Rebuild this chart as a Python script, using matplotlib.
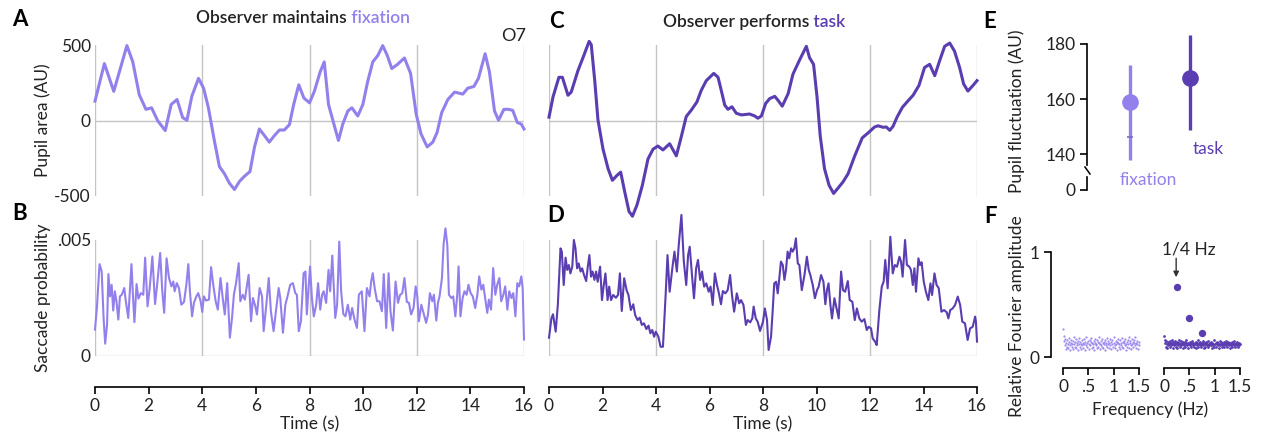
import numpy as np
import matplotlib
matplotlib.use("Agg")
from matplotlib import pyplot as plt
from matplotlib.lines import Line2D

plt.rcParams['font.family'] = ['Lato', 'DejaVu Sans']
plt.rcParams['font.size'] = 12.5

FIX = '#9480ec'
TASK = '#5a3db0'
GRID = '#c4c4c4'
INK = '#222222'

# --- A: pupil area while fixating (AU)
pupil_fix_t = [0, 0.35, 0.70, 1.19, 1.41, 1.65, 1.90, 2.11, 2.34, 2.62,
               2.84, 3.06, 3.27, 3.43, 3.61, 3.86, 4.05, 4.23, 4.45, 4.64,
               4.83, 5.01, 5.20, 5.39, 5.57, 5.78, 5.95, 6.13, 6.32, 6.50,
               6.69, 6.88, 7.06, 7.25, 7.41, 7.60, 7.79, 8.00, 8.18, 8.40,
               8.55, 8.71, 8.91, 9.08, 9.24, 9.43, 9.58, 9.80, 9.99, 10.17,
               10.36, 10.55, 10.73, 10.90, 11.07, 11.27, 11.54, 11.77, 11.98, 12.16,
               12.39, 12.60, 12.76, 12.93, 13.16, 13.41, 13.72, 13.90, 14.13, 14.30,
               14.55, 14.71, 14.90, 15.05, 15.25, 15.42, 15.58, 15.75, 15.90, 16.0]
pupil_fix = [128, 377, 193, 496, 388, 171, 74, 84, -2, -67,
             106, 139, 19, 2, 160, 279, 214, 84, -132, -305,
             -353, -414, -457, -403, -370, -338, -175, -56, -100, -143,
             -100, -63, -63, -28, 106, 236, 149, 117, 193, 323,
             388, 106, -24, -132, -24, 63, 84, 30, 106, 258,
             388, 431, 496, 431, 344, 370, 414, 312, 41, -89,
             -175, -143, -78, 52, 139, 188, 175, 214, 225, 279,
             442, 323, 63, 2, 74, 74, 67, -13, -24, -56]

# --- C: pupil area during task (AU)
pupil_task_t = [0, 0.15, 0.37, 0.50, 0.71, 0.83, 1.08, 1.27, 1.50, 1.58,
                1.71, 1.83, 2.02, 2.21, 2.37, 2.54, 2.68, 2.83, 2.99, 3.12,
                3.29, 3.49, 3.70, 3.89, 4.07, 4.26, 4.51, 4.76, 4.95, 5.13,
                5.32, 5.53, 5.69, 5.88, 6.16, 6.32, 6.44, 6.57, 6.69, 6.84,
                7.00, 7.19, 7.50, 7.69, 7.81, 7.94, 8.10, 8.25, 8.44, 8.56,
                8.72, 8.94, 9.12, 9.35, 9.62, 9.74, 9.89, 10.02, 10.14, 10.30,
                10.47, 10.64, 10.84, 10.99, 11.18, 11.43, 11.71, 11.93, 12.17, 12.30,
                12.49, 12.61, 12.74, 12.86, 13.01, 13.21, 13.42, 13.61, 13.83, 14.04,
                14.23, 14.42, 14.60, 14.79, 14.98, 15.16, 15.35, 15.50, 15.66, 15.85,
                16.0]
pupil_task = [22, 156, 286, 286, 167, 188, 329, 416, 524, 502,
              264, 4, -190, -320, -396, -364, -342, -472, -602, -634,
              -559, -429, -255, -190, -169, -195, -154, -234, -104, 26,
              69, 123, 199, 264, 312, 286, 199, 102, 74, 91,
              48, 37, 43, 30, 15, 30, 113, 145, 160, 134,
              95, 178, 307, 394, 491, 416, 372, 156, -104, -320,
              -429, -483, -440, -407, -353, -234, -115, -82, -43, -35,
              -45, -43, -65, -39, 22, 87, 130, 167, 232, 351,
              372, 297, 394, 491, 513, 459, 351, 242, 195, 232,
              264]

# --- B: saccade probability while fixating, (time s, prob x 1e-3)
saccade_fix = np.array([
    (0, 1.14), (0.07, 2.07), (0.17, 3.96), (0.25, 3.64), (0.32, 1.64), (0.38, 0.53),
    (0.45, 1.36), (0.50, 3.53), (0.56, 2.57), (0.62, 3.07), (0.68, 1.96), (0.74, 2.79),
    (0.80, 2.36), (0.87, 1.57), (0.93, 2.57), (1.00, 2.64), (1.09, 2.93), (1.15, 2.36),
    (1.24, 1.64), (1.30, 2.79), (1.36, 3.96), (1.42, 2.50), (1.47, 1.46), (1.55, 3.10),
    (1.62, 2.47), (1.71, 2.71), (1.80, 2.64), (1.87, 4.24), (1.96, 2.14), (2.04, 2.93),
    (2.14, 4.29), (2.24, 2.24), (2.33, 3.21), (2.43, 4.44), (2.51, 2.79), (2.58, 1.86),
    (2.67, 4.21), (2.76, 3.36), (2.85, 3.00), (2.92, 3.21), (2.97, 2.79), (3.05, 3.14),
    (3.13, 2.93), (3.22, 2.21), (3.32, 2.33), (3.41, 3.10), (3.48, 3.96), (3.54, 2.79),
    (3.62, 1.71), (3.69, 2.29), (3.78, 2.57), (3.85, 2.71), (3.94, 2.36), (4.00, 1.90),
    (4.06, 2.57), (4.14, 2.39), (4.25, 2.43), (4.33, 3.83), (4.41, 3.07), (4.50, 2.36),
    (4.58, 2.00), (4.68, 3.36), (4.77, 2.43), (4.84, 1.79), (4.93, 3.14), (5.03, 0.79),
    (5.11, 1.64), (5.18, 2.64), (5.26, 3.14), (5.36, 4.00), (5.42, 2.36), (5.51, 2.64),
    (5.59, 2.43), (5.67, 3.07), (5.73, 3.50), (5.82, 1.50), (5.89, 2.50), (5.98, 2.14),
    (6.04, 1.79), (6.14, 2.93), (6.23, 2.57), (6.29, 1.07), (6.39, 2.21), (6.48, 3.36),
    (6.56, 1.93), (6.66, 1.07), (6.76, 2.07), (6.85, 2.93), (6.91, 2.50), (7.01, 1.00),
    (7.10, 2.21), (7.18, 2.57), (7.28, 3.07), (7.38, 3.14), (7.47, 2.71), (7.53, 2.64),
    (7.60, 1.07), (7.68, 1.50), (7.78, 3.57), (7.85, 3.64), (7.90, 1.79), (8.02, 3.86),
    (8.09, 2.50), (8.16, 1.71), (8.25, 2.21), (8.32, 3.14), (8.40, 2.00), (8.47, 2.64),
    (8.53, 2.79), (8.62, 2.29), (8.71, 3.71), (8.77, 2.79), (8.85, 4.33), (8.96, 1.64),
    (9.03, 2.21), (9.11, 4.93), (9.18, 2.79), (9.26, 1.81), (9.34, 1.71), (9.43, 2.21),
    (9.52, 1.57), (9.59, 2.07), (9.68, 1.57), (9.77, 1.21), (9.84, 2.64), (9.95, 2.79),
    (10.05, 1.07), (10.14, 2.93), (10.24, 2.57), (10.30, 3.21), (10.36, 3.57), (10.43, 2.93),
    (10.52, 2.36), (10.61, 2.36), (10.70, 1.93), (10.77, 3.53), (10.86, 1.21), (10.95, 3.57),
    (11.02, 1.93), (11.11, 1.10), (11.21, 3.21), (11.30, 2.29), (11.38, 2.64), (11.46, 2.71),
    (11.54, 3.36), (11.63, 2.33), (11.71, 2.29), (11.79, 1.79), (11.88, 2.07), (11.96, 3.00),
    (12.02, 2.57), (12.08, 1.50), (12.17, 2.21), (12.25, 1.86), (12.35, 1.43), (12.42, 1.79),
    (12.49, 2.71), (12.58, 2.36), (12.64, 2.64), (12.73, 1.53), (12.79, 2.29), (12.85, 2.57),
    (12.94, 3.36), (13.00, 4.79), (13.07, 5.50), (13.14, 4.79), (13.20, 2.64), (13.29, 2.50),
    (13.36, 2.57), (13.44, 1.71), (13.51, 2.64), (13.56, 3.86), (13.63, 1.71), (13.71, 2.50),
    (13.78, 2.79), (13.86, 2.64), (13.93, 3.07), (14.01, 2.71), (14.09, 2.57), (14.18, 2.07),
    (14.26, 2.64), (14.33, 3.43), (14.41, 2.86), (14.48, 3.07), (14.56, 2.43), (14.63, 1.86),
    (14.69, 2.43), (14.77, 2.00), (14.85, 3.79), (14.93, 2.64), (15.00, 3.07), (15.08, 3.36),
    (15.15, 2.36), (15.23, 2.64), (15.30, 3.00), (15.38, 2.00), (15.45, 2.79), (15.53, 2.50),
    (15.60, 2.71), (15.68, 1.71), (15.75, 3.14), (15.82, 3.00), (15.90, 3.43), (15.95, 2.93),
    (16.0, 0.71)])

# --- D: saccade probability during task, (time s, prob x 1e-3)
saccade_task = np.array([
    (0, 0.79), (0.09, 1.62), (0.15, 1.80), (0.25, 1.05), (0.33, 2.20), (0.43, 4.64),
    (0.48, 4.50), (0.55, 3.06), (0.62, 4.24), (0.68, 3.71), (0.74, 3.92), (0.80, 3.56),
    (0.87, 3.85), (0.93, 5.00), (0.99, 4.64), (1.05, 3.78), (1.11, 3.99), (1.18, 3.64),
    (1.24, 3.78), (1.31, 3.49), (1.39, 3.23), (1.45, 3.85), (1.51, 4.35), (1.57, 3.42),
    (1.63, 3.64), (1.70, 3.28), (1.76, 3.64), (1.82, 3.20), (1.91, 3.85), (1.98, 2.41),
    (2.04, 2.99), (2.11, 3.56), (2.19, 2.41), (2.25, 2.99), (2.32, 2.41), (2.40, 2.63),
    (2.50, 2.51), (2.58, 2.63), (2.65, 3.56), (2.72, 1.94), (2.81, 3.35), (2.90, 2.84),
    (2.97, 2.63), (3.06, 1.98), (3.15, 2.23), (3.22, 1.77), (3.31, 1.55), (3.39, 1.65),
    (3.47, 1.34), (3.55, 1.41), (3.64, 1.16), (3.72, 1.31), (3.79, 0.98), (3.86, 1.12),
    (3.93, 0.83), (3.99, 1.05), (4.09, 0.83), (4.17, 0.40), (4.26, 0.40), (4.36, 2.63),
    (4.43, 4.35), (4.51, 2.77), (4.61, 3.78), (4.69, 4.50), (4.78, 3.64), (4.85, 4.78),
    (4.95, 6.08), (5.04, 4.07), (5.13, 3.06), (5.20, 4.35), (5.26, 4.71), (5.35, 3.42),
    (5.42, 2.49), (5.50, 3.78), (5.57, 4.14), (5.65, 3.28), (5.72, 3.64), (5.80, 2.99),
    (5.88, 3.13), (5.97, 2.77), (6.04, 2.99), (6.12, 2.20), (6.20, 3.56), (6.28, 3.06),
    (6.34, 2.77), (6.43, 2.23), (6.50, 2.80), (6.59, 2.70), (6.68, 2.84), (6.77, 3.49),
    (6.84, 2.63), (6.92, 1.91), (7.02, 2.70), (7.11, 2.27), (7.18, 2.41), (7.27, 2.20),
    (7.36, 1.34), (7.43, 1.55), (7.52, 1.45), (7.60, 1.62), (7.65, 2.13), (7.73, 1.62),
    (7.80, 1.48), (7.89, 1.08), (8.00, 1.48), (8.07, 2.05), (8.15, 1.55), (8.21, 0.26),
    (8.30, 0.83), (8.36, 1.91), (8.42, 3.13), (8.49, 3.20), (8.55, 2.70), (8.61, 3.35),
    (8.67, 4.07), (8.74, 3.92), (8.80, 3.28), (8.86, 3.71), (8.92, 4.50), (8.98, 4.21),
    (9.05, 4.64), (9.11, 4.50), (9.17, 4.64), (9.23, 5.07), (9.30, 3.99), (9.36, 3.92),
    (9.45, 2.84), (9.55, 3.49), (9.64, 4.28), (9.71, 3.71), (9.77, 3.49), (9.86, 3.06),
    (9.94, 2.49), (10.02, 2.84), (10.08, 2.99), (10.17, 3.49), (10.26, 3.20), (10.33, 2.23),
    (10.39, 2.84), (10.45, 3.13), (10.52, 2.20), (10.58, 1.62), (10.67, 2.49), (10.75, 2.05),
    (10.83, 1.62), (10.92, 3.64), (10.99, 2.84), (11.07, 2.77), (11.17, 3.23), (11.24, 2.41),
    (11.34, 2.34), (11.43, 1.55), (11.51, 2.05), (11.60, 1.62), (11.69, 1.48), (11.79, 1.59),
    (11.88, 1.12), (11.95, 1.26), (12.04, 1.19), (12.10, 0.76), (12.19, 0.62), (12.25, 0.47),
    (12.35, 1.98), (12.44, 2.99), (12.51, 3.20), (12.57, 4.14), (12.66, 2.92), (12.76, 5.14),
    (12.85, 3.56), (12.93, 3.92), (13.01, 3.85), (13.10, 4.28), (13.16, 4.07), (13.22, 3.42),
    (13.31, 5.00), (13.38, 3.92), (13.47, 3.85), (13.53, 3.71), (13.60, 3.06), (13.66, 3.78),
    (13.72, 2.77), (13.81, 4.21), (13.87, 3.92), (13.93, 4.04), (14.01, 3.20), (14.09, 2.77),
    (14.18, 2.41), (14.26, 3.13), (14.32, 2.63), (14.41, 3.56), (14.49, 3.06), (14.57, 2.92),
    (14.67, 1.91), (14.77, 1.98), (14.87, 1.88), (14.93, 1.62), (15.00, 1.98), (15.09, 2.05),
    (15.18, 2.20), (15.28, 2.56), (15.37, 2.20), (15.45, 1.48), (15.55, 1.41), (15.65, 0.69),
    (15.74, 1.19), (15.84, 1.26), (15.93, 1.70), (15.96, 1.48), (16.0, 0.62)])

# --- E: pupil fluctuation summary (AU)
cond_names = ['fixation', 'task']
fluct_mean = [158.8, 167.6]
fluct_low = [137.8, 148.7]
fluct_high = [172.4, 183.3]
fluct_median_fix = 146.2

# --- F: relative Fourier amplitude, 0-1.5 Hz
fourier_fix = [0.27, 0.20, 0.15, 0.11, 0.17, 0.08, 0.13, 0.10, 0.16, 0.12,
               0.09, 0.14, 0.18, 0.11, 0.07, 0.13, 0.16, 0.10, 0.12, 0.15,
               0.08, 0.19, 0.12, 0.10, 0.14, 0.09, 0.17, 0.11, 0.13, 0.07,
               0.15, 0.12, 0.18, 0.10, 0.14, 0.08, 0.12, 0.16, 0.11, 0.13,
               0.09, 0.17, 0.12, 0.14, 0.07, 0.19, 0.11, 0.13, 0.10, 0.15,
               0.12, 0.08, 0.16, 0.11, 0.14, 0.18, 0.09, 0.13, 0.12, 0.10,
               0.15, 0.07, 0.13, 0.17, 0.11, 0.12, 0.09, 0.16, 0.14, 0.10,
               0.13, 0.19, 0.08, 0.12, 0.15, 0.11, 0.17, 0.10, 0.13, 0.09,
               0.14, 0.12, 0.07, 0.16, 0.11, 0.13, 0.18, 0.10, 0.12, 0.15,
               0.09, 0.13, 0.11, 0.17, 0.08, 0.14, 0.12, 0.16, 0.10, 0.13,
               0.19, 0.11, 0.09, 0.15, 0.12, 0.07, 0.14, 0.13, 0.17, 0.10,
               0.12, 0.16, 0.08, 0.13, 0.11, 0.18, 0.10, 0.14, 0.09, 0.15,
               0.13, 0.11, 0.17, 0.07, 0.12, 0.14, 0.10, 0.16, 0.12, 0.19,
               0.09, 0.13, 0.15, 0.11, 0.08, 0.17, 0.12, 0.14, 0.10, 0.13,
               0.16, 0.11, 0.19, 0.09, 0.13, 0.12, 0.15, 0.08, 0.14, 0.11]
fourier_task = [0.20, 0.16, 0.13, 0.10, 0.15, 0.12, 0.09, 0.14, 0.11, 0.13,
                0.12, 0.15, 0.10, 0.13, 0.11, 0.16, 0.12, 0.09, 0.14, 0.12,
                0.11, 0.13, 0.15, 0.10, 0.12, 0.14, 0.09, 0.13, 0.11, 0.16,
                0.13, 0.10, 0.12, 0.15, 0.11, 0.13, 0.12, 0.09, 0.14, 0.11,
                0.12, 0.14, 0.10, 0.13, 0.16, 0.11, 0.12, 0.13, 0.09, 0.12,
                0.14, 0.11, 0.13, 0.10, 0.12, 0.15, 0.11, 0.13, 0.12, 0.10,
                0.13, 0.12, 0.09, 0.14, 0.11, 0.13, 0.16, 0.10, 0.12, 0.13,
                0.11, 0.14, 0.12, 0.10, 0.13, 0.12, 0.15, 0.11, 0.09, 0.13,
                0.12, 0.10, 0.14, 0.13, 0.11, 0.12, 0.10, 0.15, 0.12, 0.11,
                0.13, 0.12, 0.11, 0.14, 0.09, 0.13, 0.12, 0.11, 0.16, 0.10,
                0.12, 0.13, 0.10, 0.12, 0.14, 0.11, 0.13, 0.09, 0.12, 0.15,
                0.11, 0.12, 0.14, 0.10, 0.13, 0.12, 0.11, 0.14, 0.10, 0.13,
                0.12, 0.15, 0.11, 0.13, 0.10, 0.12, 0.14, 0.11, 0.13, 0.09,
                0.13, 0.11, 0.12, 0.14, 0.10, 0.13, 0.12, 0.15, 0.11, 0.12,
                0.10, 0.13, 0.12, 0.11, 0.14, 0.12, 0.10, 0.13, 0.11, 0.12]
peak_freq = [0.25, 0.5, 0.75]
peak_amp = [0.67, 0.37, 0.23]

W, H = 1261, 434
fig = plt.figure(figsize=(W / 100, H / 100), dpi=100)


def box(l, t, r, b):
    # pixel box -> figure fraction rect
    return [l / W, 1 - b / H, (r - l) / W, (b - t) / H]


def fpx(x, y):
    return x / W, 1 - y / H


def trace_panel(rect, t, y, color, lw, ylim, yticks, yticklabels, time_axis):
    ax = fig.add_axes(rect)
    for g in range(0, 17, 4):
        ax.axvline(g, color=GRID, lw=1, zorder=1)
    ax.axhline(0, color=GRID, lw=1, zorder=1)
    ax.plot(t, y, color=color, lw=lw, clip_on=False, zorder=3,
            solid_joinstyle='round')
    ax.set_xlim(0, 16)
    ax.set_ylim(*ylim)
    for s in ['top', 'right', 'left']:
        ax.spines[s].set_visible(False)
    ax.set_yticks(yticks)
    ax.set_yticklabels(yticklabels)
    ax.tick_params(axis='y', length=0, pad=3, labelcolor=INK)
    ax.set_facecolor('none')
    if time_axis:
        ax.spines['bottom'].set_position(('outward', 22))
        ax.spines['bottom'].set_linewidth(1.2)
        ax.set_xticks(range(0, 17, 2))
        ax.tick_params(axis='x', length=5, width=1.2, pad=3, labelcolor=INK)
        ax.set_xlabel('Time (s)', color=INK, labelpad=2)
    else:
        ax.spines['bottom'].set_visible(False)
        ax.set_xticks([])
    return ax


axA = trace_panel(box(95, 45, 524, 196), pupil_fix_t, pupil_fix, FIX, 2.2,
                  (-500, 500), [500, 0, -500], ['500', '0', '-500'], False)
axA.text(15.6, 505, 'O7', ha='center', va='bottom', fontsize=13, color=INK)
axB = trace_panel(box(95, 240, 524, 356), saccade_fix[:, 0], saccade_fix[:, 1] * 1e-3,
                  FIX, 1.5, (0, 0.005), [0.005, 0], ['.005', '0'], True)
axC = trace_panel(box(549, 45, 977, 196), pupil_task_t, pupil_task, TASK, 2.2,
                  (-500, 500), [], [], False)
axD = trace_panel(box(549, 240, 977, 356), saccade_task[:, 0], saccade_task[:, 1] * 1e-3,
                  TASK, 1.5, (0, 0.005), [], [], True)

fig.text(*fpx(43, 120), 'Pupil area (AU)', rotation=90, ha='center', va='center', color=INK)
fig.text(*fpx(43, 298), 'Saccade probability', rotation=90, ha='center', va='center', color=INK)


def two_tone(x, y, first, second, color):
    t1 = fig.text(*fpx(x, y), first, ha='left', va='center', fontsize=12.5,
                  fontweight='semibold', color=INK)
    axA.annotate(second, xy=(1, 0), xycoords=t1, ha='left', va='bottom',
                 fontsize=12.5, fontweight='semibold', color=color,
                 annotation_clip=False)


two_tone(196, 18, 'Observer maintains', ' fixation', FIX)
two_tone(663, 22, 'Observer performs', ' task', TASK)

# --- E
axE = fig.add_axes(box(1087, 44, 1230, 165))
axE.set_xlim(-0.717, 1.667)
axE.set_ylim(136, 180)
for s in ['top', 'right', 'bottom']:
    axE.spines[s].set_visible(False)
axE.spines['left'].set_linewidth(1.2)
axE.set_xticks([])
axE.set_yticks([140, 160, 180])
axE.tick_params(axis='y', length=5, width=1.2, pad=3, labelcolor=INK)
axE.set_facecolor('none')
cols = [FIX, TASK]
for i in range(2):
    axE.plot([i, i], [fluct_low[i], fluct_high[i]], color=cols[i], lw=2.4,
             solid_capstyle='butt', clip_on=False, zorder=2)
    axE.plot(i, fluct_mean[i], 'o', ms=11, color=cols[i], clip_on=False, zorder=3)
axE.plot(0, fluct_median_fix, marker='_', ms=4, mew=1.2, color='#7d6cc4', zorder=3)
axE.text(0.3, 130.5, cond_names[0], ha='center', va='center', color=FIX)
axE.text(1.3, 141.8, cond_names[1], ha='center', va='center', color=TASK)

axE0 = fig.add_axes(box(1087, 177, 1230, 190))
axE0.set_ylim(0, 5)
axE0.set_xlim(0, 1)
for s in ['top', 'right', 'bottom']:
    axE0.spines[s].set_visible(False)
axE0.spines['left'].set_linewidth(1.2)
axE0.set_xticks([])
axE0.set_yticks([0])
axE0.tick_params(axis='y', length=5, width=1.2, pad=3, labelcolor=INK)
axE0.set_facecolor('none')
x0, y0 = fpx(1085, 167)
x1, y1 = fpx(1090, 174)
fig.add_artist(Line2D([x0, x1], [y0, y1], color='black', lw=1.1, transform=fig.transFigure))
fig.text(*fpx(1017, 111), 'Pupil fluctuation (AU)', rotation=90, ha='center', va='center', color=INK)

# --- F
axF1 = fig.add_axes(box(1051, 245, 1145, 362))
axF2 = fig.add_axes(box(1152, 245, 1245, 362))
for ax in (axF1, axF2):
    ax.set_ylim(-0.0476, 1.0667)
    for s in ['top', 'right']:
        ax.spines[s].set_visible(False)
    ax.spines['bottom'].set_position(('outward', 4.5))
    ax.spines['bottom'].set_bounds(0, 1.5)
    ax.spines['bottom'].set_linewidth(1.2)
    ax.set_xticks([0, 0.5, 1, 1.5])
    ax.set_xticklabels(['0', '.5', '1', '1.5'])
    ax.tick_params(axis='x', length=5, width=1.2, pad=3, labelcolor=INK)
    ax.set_facecolor('none')
axF1.set_xlim(-0.237, 1.618)
axF2.set_xlim(-0.237, 1.599)
axF1.spines['left'].set_bounds(0, 1)
axF1.spines['left'].set_linewidth(1.2)
axF1.set_yticks([0, 1])
axF1.tick_params(axis='y', length=5, width=1.2, pad=3, labelcolor=INK)
axF2.spines['left'].set_visible(False)
axF2.set_yticks([])

axF1.scatter(np.linspace(0, 1.5, len(fourier_fix)), fourier_fix, s=2.5, color=FIX,
             linewidths=0, alpha=0.9)
axF2.scatter(np.linspace(0, 1.5, len(fourier_task)), fourier_task, s=4, color=TASK,
             linewidths=0)
axF2.scatter(peak_freq, peak_amp, s=28, color=TASK, linewidths=0, zorder=3)
axF2.annotate('', xy=(0.24, 0.76), xytext=(0.24, 0.94),
              arrowprops=dict(arrowstyle='-|>', color='#333333', lw=1, mutation_scale=8,
                              shrinkA=0, shrinkB=0))
axF2.text(0.49, 1.02, '1/4 Hz', ha='center', va='center', color=INK)
fig.text(*fpx(1150, 410), 'Frequency (Hz)', ha='center', va='center', color=INK)
fig.text(*fpx(1017, 316), 'Relative Fourier amplitude', rotation=90, ha='center',
         va='center', color=INK)

for letter, x, y in [('A', 20, 20), ('B', 20, 213), ('C', 556, 21), ('D', 556, 215),
                     ('E', 990, 21), ('F', 990, 216)]:
    fig.text(*fpx(x, y), letter, ha='center', va='center', fontsize=16,
             fontweight='bold', color='black')

fig.savefig('out.png', dpi=100)
